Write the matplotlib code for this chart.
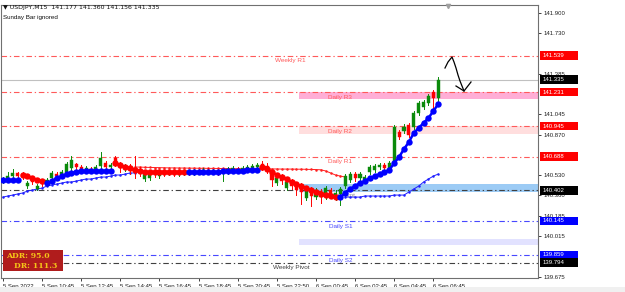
import numpy as np
import matplotlib
matplotlib.use("Agg")
import matplotlib.pyplot as plt
from matplotlib.patches import Rectangle
from matplotlib.lines import Line2D
from matplotlib.transforms import blended_transform_factory

# ---------------- data (USDJPY M15) ----------------
opens = [140.481, 140.498, 140.523, 140.549, 140.540, 140.439, 140.507, 140.414, 140.481, 140.456,
         140.507, 140.540, 140.523, 140.532, 140.591, 140.625, 140.599, 140.574, 140.582, 140.566,
         140.608, 140.633, 140.599, 140.675, 140.625, 140.591, 140.608, 140.591, 140.574, 140.498,
         140.507, 140.557, 140.523, 140.557, 140.549, 140.557, 140.540, 140.549, 140.557, 140.549,
         140.566, 140.557, 140.574, 140.557, 140.566, 140.549, 140.557, 140.574, 140.582, 140.574,
         140.582, 140.591, 140.599, 140.625, 140.608, 140.557, 140.464, 140.523, 140.422, 140.481,
         140.456, 140.439, 140.338, 140.414, 140.346, 140.397, 140.355, 140.405, 140.363, 140.372,
         140.439, 140.490, 140.540, 140.507, 140.481, 140.557, 140.574, 140.599, 140.616, 140.591,
         140.633, 140.894, 140.903, 140.953, 140.936, 141.054, 141.105, 141.138, 141.231, 141.177]
highs = [140.515, 140.557, 140.582, 140.557, 140.557, 140.481, 140.523, 140.456, 140.498, 140.507,
         140.566, 140.557, 140.574, 140.641, 140.692, 140.633, 140.616, 140.608, 140.599, 140.616,
         140.726, 140.650, 140.633, 140.692, 140.641, 140.625, 140.625, 140.692, 140.599, 140.557,
         140.557, 140.574, 140.574, 140.574, 140.574, 140.566, 140.566, 140.574, 140.574, 140.582,
         140.582, 140.591, 140.591, 140.582, 140.582, 140.574, 140.599, 140.608, 140.599, 140.608,
         140.616, 140.625, 140.633, 140.650, 140.633, 140.574, 140.523, 140.540, 140.490, 140.498,
         140.473, 140.464, 140.439, 140.431, 140.422, 140.414, 140.439, 140.422, 140.405, 140.431,
         140.540, 140.557, 140.557, 140.557, 140.532, 140.616, 140.625, 140.633, 140.633, 140.650,
         140.953, 140.911, 140.962, 140.970, 141.071, 141.155, 141.164, 141.214, 141.248, 141.360]
lows = [140.464, 140.481, 140.507, 140.490, 140.498, 140.422, 140.456, 140.405, 140.439, 140.439,
        140.490, 140.507, 140.515, 140.523, 140.574, 140.582, 140.557, 140.557, 140.549, 140.557,
        140.591, 140.582, 140.574, 140.608, 140.557, 140.566, 140.540, 140.507, 140.523, 140.481,
        140.490, 140.515, 140.507, 140.523, 140.532, 140.523, 140.523, 140.532, 140.532, 140.532,
        140.540, 140.540, 140.540, 140.540, 140.532, 140.481, 140.540, 140.557, 140.549, 140.557,
        140.566, 140.574, 140.582, 140.574, 140.549, 140.439, 140.448, 140.456, 140.405, 140.414,
        140.363, 140.287, 140.321, 140.271, 140.330, 140.296, 140.330, 140.338, 140.321, 140.279,
        140.422, 140.473, 140.481, 140.490, 140.464, 140.540, 140.557, 140.582, 140.574, 140.574,
        140.616, 140.835, 140.886, 140.852, 140.920, 141.037, 141.088, 141.122, 141.054, 141.156]
closes = [140.498, 140.523, 140.549, 140.523, 140.515, 140.464, 140.473, 140.439, 140.456, 140.490,
          140.549, 140.523, 140.557, 140.625, 140.658, 140.599, 140.574, 140.591, 140.566, 140.599,
          140.675, 140.599, 140.616, 140.625, 140.591, 140.608, 140.574, 140.582, 140.557, 140.540,
          140.540, 140.540, 140.557, 140.549, 140.557, 140.540, 140.549, 140.557, 140.549, 140.566,
          140.557, 140.574, 140.557, 140.566, 140.549, 140.557, 140.582, 140.591, 140.566, 140.591,
          140.599, 140.608, 140.616, 140.599, 140.574, 140.490, 140.507, 140.481, 140.473, 140.439,
          140.405, 140.389, 140.422, 140.355, 140.405, 140.346, 140.422, 140.363, 140.380, 140.414,
          140.523, 140.540, 140.507, 140.540, 140.515, 140.599, 140.608, 140.616, 140.591, 140.633,
          140.936, 140.852, 140.936, 140.869, 141.054, 141.138, 141.147, 141.197, 141.181, 141.335]

# fast trend line (big dots) and its colour per bar
fast = [140.490, 140.490, 140.490, 140.490, 140.532, 140.523, 140.507, 140.490, 140.481, 140.464,
        140.481, 140.507, 140.523, 140.540, 140.549, 140.557, 140.566, 140.566, 140.566, 140.566,
        140.566, 140.566, 140.566, 140.633, 140.616, 140.599, 140.591, 140.574, 140.566, 140.557,
        140.557, 140.557, 140.557, 140.557, 140.557, 140.557, 140.557, 140.557, 140.557, 140.557,
        140.557, 140.557, 140.557, 140.557, 140.557, 140.566, 140.566, 140.566, 140.566, 140.566,
        140.574, 140.574, 140.574, 140.599, 140.582, 140.557, 140.532, 140.515, 140.498, 140.473,
        140.456, 140.439, 140.422, 140.405, 140.389, 140.372, 140.363, 140.355, 140.346, 140.346,
        140.380, 140.414, 140.439, 140.464, 140.481, 140.507, 140.523, 140.540, 140.557, 140.574,
        140.633, 140.684, 140.751, 140.810, 140.886, 140.928, 140.970, 141.012, 141.071, 141.130]
fast_dir = ("bbbb" "rrrrr" "bbbbbbbbbbbbbb" "rrrrrrrrrrrrrrr" "bbbbbbbbbbbbbbb"
            "rrrrrrrrrrrrrrrr" "bbbbbbbbbbbbbbbbbbbbb")

# slow trend line, three pieces (start bar, values)
slow_up1_start = 0
slow_up1 = [140.346, 140.355, 140.363, 140.372, 140.380, 140.397, 140.405, 140.414, 140.422, 140.439,
            140.448, 140.456, 140.464, 140.473, 140.473, 140.481, 140.490, 140.498, 140.498, 140.507,
            140.515, 140.515, 140.523, 140.532, 140.532, 140.540, 140.549, 140.549]
slow_dn_start = 27
slow_dn = [140.599, 140.599, 140.597, 140.596, 140.595, 140.594, 140.593,
           140.592, 140.592, 140.591, 140.591, 140.590, 140.590, 140.589,
           140.589, 140.588, 140.588, 140.587, 140.587, 140.586, 140.586,
           140.585, 140.585, 140.585, 140.584, 140.584, 140.584, 140.583,
           140.583, 140.583, 140.582, 140.582, 140.582, 140.581, 140.581,
           140.580, 140.579, 140.578, 140.576,
           140.566, 140.549, 140.532, 140.523, 140.515]
slow_up2_start = 70
slow_up2 = [140.346, 140.346, 140.346, 140.346, 140.355, 140.355, 140.355, 140.355, 140.355, 140.355,
            140.363, 140.363, 140.363, 140.389, 140.414, 140.439, 140.473, 140.498, 140.523, 140.540]

tick_bars = [0, 8, 16, 24, 32, 40, 48, 56, 64, 72, 80, 88]
tick_labels = ["5 Sep 2022", "5 Sep 10:45", "5 Sep 12:45", "5 Sep 14:45", "5 Sep 16:45",
               "5 Sep 18:45", "5 Sep 20:45", "5 Sep 22:50", "6 Sep 00:45", "6 Sep 02:45",
               "6 Sep 04:45", "6 Sep 06:45"]
y_ticks = [141.900, 141.730, 141.385, 141.045, 140.870, 140.530, 140.360, 140.185, 140.015, 139.675]

# pivot levels
level_names = ["Weekly R1", "Daily R3", "Daily R2", "Daily R1", "Daily Pivot",
               "Daily S1", "Daily S2", "Weekly Pivot"]
level_prices = [141.539, 141.231, 140.945, 140.688, 140.402, 140.145, 139.859, 139.794]
level_colors = ["#ff5a5a", "#ff5a5a", "#ff5a5a", "#ff5a5a", "#404040",
                "#4848ff", "#4848ff", "#404040"]
level_box = ["#ff0000", "#ff0000", "#ff0000", "#ff0000", "#000000",
             "#0000ff", "#0000ff", "#000000"]
current_price = 141.335

# zones drawn from the start of 6 Sep
zone_lo = [141.172, 140.878, 140.390, 139.942]
zone_hi = [141.231, 140.945, 140.455, 139.992]
zone_colors = ["#ffaed6", "#ffdede", "#9ccbf5", "#e2e2ff"]
zone_start = 60.6

# ---------------- figure ----------------
W, H = 625, 292
fig = plt.figure(figsize=(W / 100, H / 100), dpi=100)
fig.patch.set_facecolor("white")
ax = fig.add_axes([1 / W, 14 / H, 537 / W, 273 / H])
ax.set_xlim(-0.4, 109.4)
ax.set_ylim(139.664, 141.965)
FONT = "Liberation Sans"

x = np.arange(len(closes))

# zones
for lo, hi, col in zip(zone_lo, zone_hi, zone_colors):
    ax.add_patch(Rectangle((zone_start, lo), 200, hi - lo, facecolor=col,
                           edgecolor="none", zorder=0.5))

# level lines
dash = (0, (5, 2.5, 1.2, 2.5))
for p, c in zip(level_prices, level_colors):
    ax.axhline(p, color=c, lw=0.8, ls=dash, zorder=1)
ax.axhline(current_price, color="#c0c0c0", lw=0.8, zorder=1)

# level texts
text_pos = {"Weekly R1": 58.8, "Weekly Pivot": 59.0}
for name, p, c in zip(level_names, level_prices, level_colors):
    xpos = text_pos.get(name, 69.0)
    col = "#8a8a8a" if name == "Daily Pivot" else c
    ax.annotate(name, (xpos, p), xytext=(0, -2.0), textcoords="offset points",
                ha="center", va="top", fontsize=4.6, color=col, family=FONT, zorder=1.5)

# slow line
for start, vals, col in [(slow_up1_start, slow_up1, "#2020ff"),
                         (slow_dn_start, slow_dn, "#ff2020"),
                         (slow_up2_start, slow_up2, "#2020ff")]:
    xs = np.arange(start, start + len(vals))
    ax.plot(xs, vals, color=col, lw=0.7, marker=".", ms=1.6, zorder=2)

# candles
for i in x:
    o, h, l, c = opens[i], highs[i], lows[i], closes[i]
    col = "#0a8a0a" if c >= o else "#ff0000"
    ax.plot([i, i], [l, h], color=col, lw=0.7, zorder=3)
    ax.add_patch(Rectangle((i - 0.32, min(o, c)), 0.64, max(abs(c - o), 0.004),
                           facecolor=col, edgecolor=col, lw=0.3, zorder=3))

# fast dotted line, split into colour runs
runs = []
start = 0
for i in range(1, len(fast_dir) + 1):
    if i == len(fast_dir) or fast_dir[i] != fast_dir[start]:
        runs.append((start, i, fast_dir[start]))
        start = i
for s, e, d in runs:
    col = "#0000ff" if d == "b" else "#ff0000"
    ax.plot(x[s:e], fast[s:e], color=col, lw=1.8, marker="o", ms=4.6,
            markeredgewidth=0, zorder=4)

# axes styling
for sp in ax.spines.values():
    sp.set_color("#707070")
    sp.set_linewidth(0.8)
ax.yaxis.tick_right()
ax.set_yticks(y_ticks)
ax.set_yticklabels([f"{v:.3f}" for v in y_ticks], fontsize=4.3, family=FONT)
ax.tick_params(axis="y", length=2, width=0.6, pad=2, colors="#202020")
ax.set_xticks(tick_bars)
ax.set_xticklabels(tick_labels, fontsize=4.3, family=FONT, ha="left")
ax.tick_params(axis="x", length=2.5, width=0.6, pad=2, colors="#202020")

# right-hand price boxes
btr = blended_transform_factory(ax.transAxes, ax.transData)
box_h = 0.072
for p, bc in list(zip(level_prices, level_box)) + [(current_price, "#000000")]:
    ax.add_patch(Rectangle((1.004, p - box_h / 2), 0.07, box_h, transform=btr,
                           facecolor=bc, edgecolor="none", clip_on=False, zorder=6))
    ax.text(1.008, p, f"{p:.3f}", transform=btr, ha="left", va="center",
            fontsize=4.3, color="white", family=FONT, zorder=7, clip_on=False)

# header texts
fig.text(3 / W, 1 - 8 / H, "\u25bc USDJPY,M15  141.177 141.360 141.156 141.335",
         fontsize=4.5, family=["DejaVu Sans"], va="center", ha="left", color="#101010")
fig.text(3 / W, 1 - 17 / H, "Sunday Bar ignored", fontsize=4.5, family=FONT,
         va="center", ha="left", color="#101010")

# ADR box
fig.patches.append(Rectangle((3 / W, 1 - 271 / H), 60 / W, 21 / H, transform=fig.transFigure,
                             facecolor="#b01c1c", edgecolor="none", zorder=8))
fig.text(6 / W, 1 - 255.5 / H, "ADR: 95.0", fontsize=5.6, family="DejaVu Serif",
         weight="bold", color="#f5c518", va="center", ha="left", zorder=9)
fig.text(14 / W, 1 - 265.5 / H, "DR: 111.3", fontsize=5.6, family="DejaVu Serif",
         weight="bold", color="#f5c518", va="center", ha="left", zorder=9)

# chart shift marker
fig.add_artist(Line2D([448 / W], [1 - 6 / H], marker="v", ms=3, color="#a0a0a0",
                      transform=fig.transFigure))

# hand-drawn arrow
px = [445, 448, 452, 454, 456, 458, 460, 462, 464]
py = [68, 62, 57, 62, 68, 75, 81, 86, 91]
fig.add_artist(Line2D([v / W for v in px], [1 - v / H for v in py], color="black",
                      lw=0.9, transform=fig.transFigure))
fig.add_artist(Line2D([456 / W, 464 / W, 471 / W], [1 - 86 / H, 1 - 91 / H, 1 - 82 / H],
                      color="black", lw=0.9, transform=fig.transFigure))

# bottom strip
fig.patches.append(Rectangle((0, 0), 1, 5 / H, transform=fig.transFigure,
                             facecolor="#f0f0f0", edgecolor="none"))

fig.savefig("out.png", dpi=100)
